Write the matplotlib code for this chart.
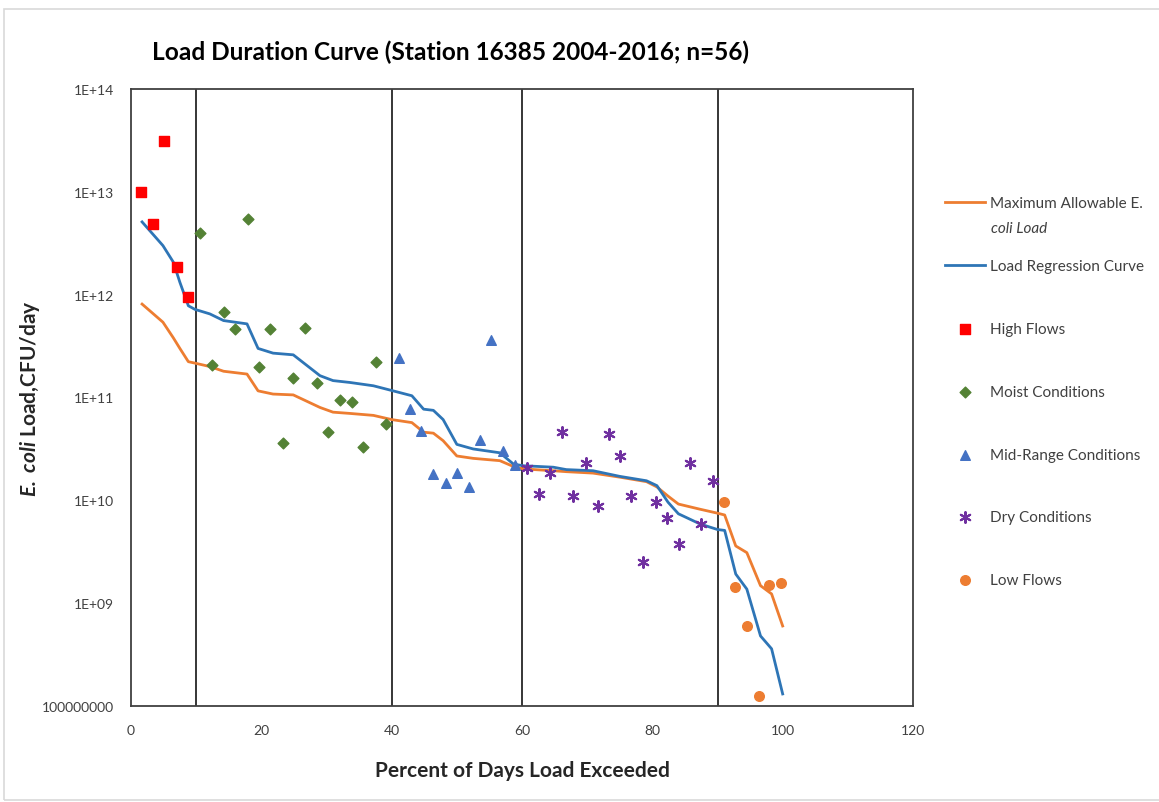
import matplotlib.pyplot as plt
from matplotlib.patches import Rectangle

plt.rcParams['font.family'] = ['Lato', 'DejaVu Sans']
plt.rcParams['mathtext.fontset'] = 'custom'
plt.rcParams['mathtext.it'] = 'Lato:italic'
plt.rcParams['mathtext.bfit'] = 'Lato:italic:bold'
plt.rcParams['mathtext.rm'] = 'Lato'

# Load duration curves (shared x positions)
curve_x = [1.7, 4.9, 6.5, 7.5, 8.8, 9.8, 12.1, 14.2, 17.8, 19.5, 21.8, 24.9, 29.0, 31.0,
           33.6, 37.2, 40.0, 43.1, 44.9, 46.4, 47.9, 50.0, 52.5, 56.6, 58.7, 60.2, 64.8,
           66.8, 70.9, 75.0, 79.1, 80.7, 82.4, 84.0, 87.3, 90.0, 91.1, 92.8, 94.5, 96.6,
           98.3, 100.0]
regression = [5.1e12, 3.0e12, 2.07e12, 1.32e12, 7.8e11, 7.2e11, 6.5e11, 5.6e11, 5.2e11,
              3.0e11, 2.7e11, 2.6e11, 1.63e11, 1.46e11, 1.4e11, 1.3e11, 1.17e11, 1.04e11,
              7.7e10, 7.5e10, 6.1e10, 3.5e10, 3.16e10, 2.9e10, 2.25e10, 2.17e10, 2.1e10,
              1.99e10, 1.94e10, 1.71e10, 1.55e10, 1.39e10, 9.6e9, 7.4e9, 5.9e9, 5.2e9,
              5.1e9, 1.92e9, 1.37e9, 4.8e8, 3.6e8, 1.31e8]
max_allowable = [8.1e11, 5.4e11, 3.8e11, 3.0e11, 2.23e11, 2.16e11, 2.0e11, 1.8e11, 1.69e11,
                 1.16e11, 1.08e11, 1.06e11, 8.0e10, 7.2e10, 7.0e10, 6.7e10, 6.1e10, 5.7e10,
                 4.6e10, 4.5e10, 3.8e10, 2.7e10, 2.56e10, 2.43e10, 2.13e10, 2.02e10, 1.94e10,
                 1.9e10, 1.84e10, 1.68e10, 1.52e10, 1.35e10, 1.1e10, 9.2e9, 8.2e9, 7.5e9,
                 7.2e9, 3.6e9, 3.1e9, 1.48e9, 1.23e9, 6.0e8]

# Observed loads by flow condition
high_x = [1.5, 3.3, 5.0, 7.1, 8.8]
high_y = [1.0e13, 4.9e12, 3.1e13, 1.85e12, 9.5e11]

moist_x = [10.6, 12.4, 14.2, 15.9, 17.9, 19.7, 21.4, 23.3, 24.9, 26.7, 28.6, 30.2, 32.1,
           33.9, 35.6, 37.6, 39.2]
moist_y = [3.95e12, 2.06e11, 6.8e11, 4.6e11, 5.4e12, 2.0e11, 4.6e11, 3.6e10, 1.55e11,
           4.7e11, 1.38e11, 4.6e10, 9.5e10, 9.0e10, 3.3e10, 2.2e11, 5.5e10]

mid_x = [41.1, 42.8, 44.5, 46.3, 48.3, 50.1, 51.8, 53.6, 55.3, 57.1, 58.9]
mid_y = [2.4e11, 7.7e10, 4.7e10, 1.8e10, 1.46e10, 1.85e10, 1.34e10, 3.9e10, 3.6e11,
         3.0e10, 2.2e10]

dry_x = [60.7, 62.6, 64.3, 66.1, 67.8, 69.8, 71.6, 73.3, 75.0, 76.8, 78.5, 80.5, 82.2,
         84.1, 85.8, 87.5, 89.3]
dry_y = [2.05e10, 1.15e10, 1.85e10, 4.6e10, 1.09e10, 2.3e10, 8.9e9, 4.45e10, 2.7e10,
         1.1e10, 2.5e9, 9.7e9, 6.8e9, 3.8e9, 2.3e10, 5.9e9, 1.53e10]

low_x = [91.0, 92.7, 94.5, 96.3, 97.9, 99.7]
low_y = [9.6e9, 1.45e9, 6.0e8, 1.26e8, 1.5e9, 1.56e9]

condition_bounds = [10, 40, 60, 90]
x_ticks = [0, 20, 40, 60, 80, 100, 120]
y_ticks = [1e8, 1e9, 1e10, 1e11, 1e12, 1e13, 1e14]
y_tick_labels = ['100000000', '1E+09', '1E+10', '1E+11', '1E+12', '1E+13', '1E+14']

fig = plt.figure(figsize=(11.59, 8.03), dpi=100)
ax = fig.add_axes([131 / 1159, 1 - 707 / 803, (913 - 131) / 1159, (707 - 90) / 803])

# light outer chart border
fig.patches.append(Rectangle((4 / 1159, 0.002), 1.2, 1 - 10 / 803 - 0.002,
                             transform=fig.transFigure, fill=False,
                             edgecolor='#d9d9d9', linewidth=1.2))

for b in condition_bounds:
    ax.axvline(b, color='black', linewidth=1.1, zorder=1)

ax.plot(curve_x, max_allowable, color='#ED7D31', linewidth=2.0, zorder=2,
        label='Maximum Allowable E.')
ax.plot(curve_x, regression, color='#2E75B6', linewidth=2.0, zorder=3,
        label='Load Regression Curve')

ax.scatter(high_x, high_y, marker='s', s=42, color='#FF0000', zorder=4, label='High Flows')
ax.scatter(moist_x, moist_y, marker='D', s=30, color='#548235', zorder=4,
           label='Moist Conditions')
ax.scatter(mid_x, mid_y, marker='^', s=48, color='#4472C4', zorder=4,
           label='Mid-Range Conditions')
ax.scatter(dry_x, dry_y, marker=(6, 2, 0), s=60, color='#7030A0', linewidths=1.5,
           zorder=4, label='Dry Conditions')
ax.scatter(low_x, low_y, marker='o', s=48, color='#ED7D31', zorder=4, label='Low Flows')

ax.set_yscale('log')
ax.set_xlim(0, 120)
ax.set_ylim(1e8, 1e14)
ax.set_xticks(x_ticks)
ax.set_yticks(y_ticks)
ax.set_yticklabels(y_tick_labels)
ax.minorticks_off()
ax.tick_params(length=0, labelsize=10, labelcolor='#404040')
ax.tick_params(axis='y', pad=12)
ax.tick_params(axis='x', pad=13)

for s in ax.spines.values():
    s.set_color('#404040')
    s.set_linewidth(1.3)

fig.text(451 / 1159, 1 - 52 / 803, 'Load Duration Curve (Station 16385 2004-2016; n=56)',
         ha='center', va='center', fontsize=17.6, fontweight='bold', color='black')
ax.set_xlabel('Percent of Days Load Exceeded', fontsize=15, fontweight='bold',
              color='#262626', labelpad=17)
ax.set_ylabel(r'$\mathbfit{E.\ coli}$ Load,CFU/day', fontsize=15, fontweight='bold',
              color='#262626', labelpad=0)

leg = ax.legend(loc='upper left', bbox_to_anchor=(945 / 1159, 1 - 197 / 803),
                bbox_transform=fig.transFigure, frameon=False, fontsize=11,
                labelspacing=3.2, handlelength=2.6, handletextpad=0.35,
                borderaxespad=0, borderpad=0)
for t in leg.get_texts():
    t.set_color('#404040')

# second line of the first legend label (Excel wraps it under the first line)
fig.text(991 / 1159, 1 - 229 / 803, 'coli Load', fontsize=11, style='italic',
         color='#404040', ha='left', va='center')

fig.savefig('out.png', dpi=100)
